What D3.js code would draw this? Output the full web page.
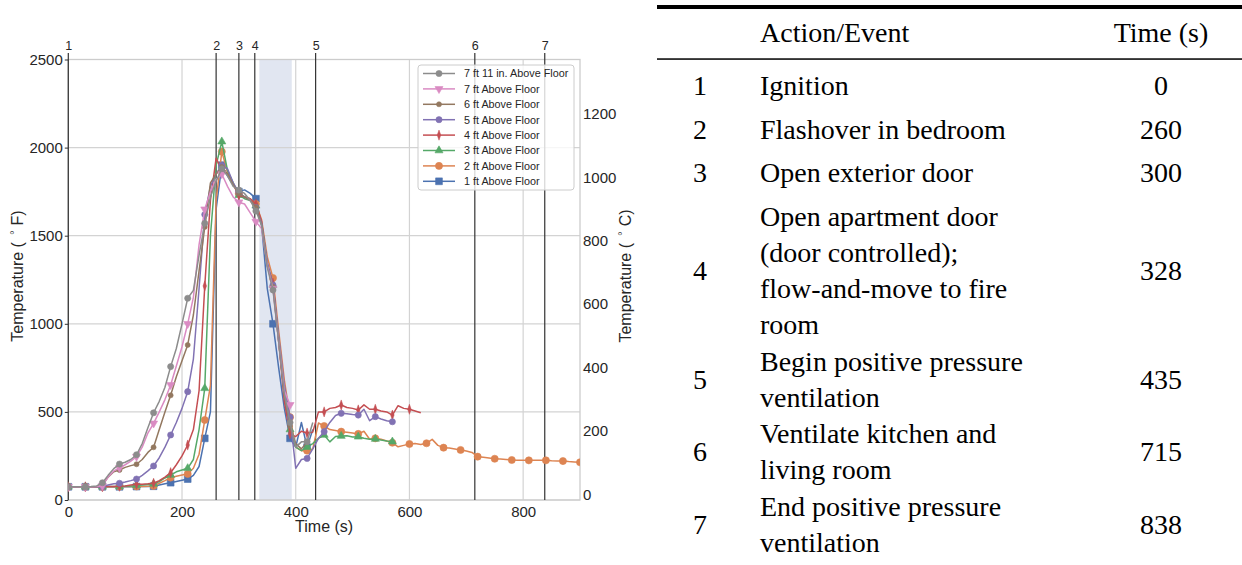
<!DOCTYPE html>
<html><head><meta charset="utf-8">
<script src="https://cdn.jsdelivr.net/npm/d3@7"></script>
<style>body{margin:0;background:#fff}svg{display:block}</style>
</head><body><svg id="c" width="1242" height="565"></svg>
<script>
// ---------------- data ----------------
const times = [0,10,20,30,40,50,60,70,80,90,100,110,120,130,140,150,160,170,180,190,200,210,220,230,240,250,260,270,280,290,300,310,320,330,340,350,360,370,380,390,400,410,420,430,440,450,460,470,480,490,500,510,520,530,540,550,560,570,580,590,600,610,620,630,640,650,660,670,680,690,700,710,720,730,740,750,760,770,780,790,800,810,820,830,840,850,860,870,880,890,900];
const seriesNames = ["1 ft Above Floor","2 ft Above Floor","3 ft Above Floor","4 ft Above Floor","5 ft Above Floor","6 ft Above Floor","7 ft Above Floor","7 ft 11 in. Above Floor"];
const t1ft = [75,75,75,75,75,75,75,75,75,75, 75,75,76,76,76,78,85,92,98,105, 112,119,140,190,350,500,1650,1900,1840,1790, 1750,1760,1740,1710,1560,1200,1000,750,520,350, 300,440,300,400];
const t2ft = [75,75,75,75,75,75,75,75,75,76, 76,77,77,77,78,80,95,110,127,135, 142,148,180,260,454,650,1700,1977,1860,1790, 1740,1720,1710,1680,1590,1380,1260,960,680,470, 300,280,280,290,437,420,400,395,388,385, 380,375,390,345,350,345,335,325,302,310, 318,320,315,322,344,310,297,295,290,284, 278,270,246,242,238,234,232,230,227,226, 225,225,225,225,225,223,222,221,218,216, 214];
const t3ft = [75,75,75,75,75,75,75,76,76,77, 78,80,82,85,88,91,105,125,142,160, 170,180,230,400,634,1500,1900,2034,1870,1800, 1730,1710,1700,1670,1570,1340,1220,910,590,400, 300,280,300,320,350,369,330,360,363,365, 358,359,350,345,346,340,335,331];
const t4ft = [75,75,75,75,75,75,75,76,77,78, 80,85,89,90,92,95,110,130,155,200, 250,312,400,620,1215,1700,1940,1870,1850,1790, 1730,1720,1710,1680,1580,1330,1230,900,560,375, 360,390,380,385,500,500,520,525,539,525, 520,511,540,515,515,505,500,482,535,520, 515,505,495];
const t5ft = [75,75,75,75,75,75,76,85,92,95, 102,110,119,140,165,193,240,300,369,440, 520,615,800,1200,1620,1780,1850,1900,1880,1800, 1745,1720,1700,1660,1570,1350,1220,930,650,470, 180,230,236,290,350,388,440,480,492,490, 485,482,515,450,473,460,450,444];
const t6ft = [75,75,75,75,75,77,85,130,160,170, 185,195,203,230,270,299,400,500,594,700, 790,880,1050,1300,1550,1800,1850,1890,1850,1790, 1740,1720,1700,1660,1560,1330,1210,900,600,420, 320,290,330];
const t7ft = [75,75,75,75,75,76,80,130,165,182, 200,220,246,300,380,435,500,570,653,760, 870,1000,1150,1450,1650,1750,1820,1850,1780,1720, 1690,1680,1630,1580,1540,1330,1200,900,620,540];
const t7ft11 = [75,75,75,75,76,80,98,140,178,204, 214,230,257,320,410,495,560,640,757,860, 1000,1145,1190,1390,1570,1720,1810,1880,1840,1780, 1759,1740,1700,1640,1560,1320,1192,900,600,440, 300,330,331,440];
const xTicks = [0,200,400,600,800];
const yTicksF = [0,500,1000,1500,2000,2500];
const yTicksC = [0,200,400,600,800,1000,1200];
const eventIds = ["1","2","3","4","5","6","7"];
const eventTimes = [0,260,300,328,435,715,838];
const eventText = [["Ignition"],["Flashover in bedroom"],["Open exterior door"],["Open apartment door","(door controlled);","flow-and-move to fire","room"],["Begin positive pressure","ventilation"],["Ventilate kitchen and","living room"],["End positive pressure","ventilation"]];
const shadeSpan = [336, 393];

// ---------------- styles ----------------
const colors = ["#4C72B0","#DD8452","#55A868","#C44E52","#8172B3","#937860","#DA8BC3","#8C8C8C"];
const markers = ["square","circle-l","triangle-up","thin-diamond","circle","circle-s","triangle-down","circle"];
const allSeries = [t1ft,t2ft,t3ft,t4ft,t5ft,t6ft,t7ft,t7ft11];

const svg = d3.select('#c');
const L = 68.3, R = 580, T = 59.5, B = 500;
const x = d3.scaleLinear().domain([0,900]).range([L,R]);
const y = d3.scaleLinear().domain([0,2500]).range([B,T]);
const yC = d3.scaleLinear().domain([(0-32)*5/9,(2500-32)*5/9]).range([B,T]);
const sans = "'Liberation Sans', Arial, sans-serif";
const txt = "#262626";

// shaded span
svg.append('rect').attr('x',x(shadeSpan[0])).attr('y',T).attr('width',x(shadeSpan[1])-x(shadeSpan[0])).attr('height',B-T).attr('fill','#e1e6f1');

// grid
const grid = svg.append('g');
grid.selectAll('.gx').data(xTicks).join('line').attr('x1',d=>x(d)).attr('x2',d=>x(d)).attr('y1',T).attr('y2',B).attr('stroke','#d3d3d3').attr('stroke-width',1.2);
grid.selectAll('.gy').data(yTicksF).join('line').attr('x1',L).attr('x2',R).attr('y1',d=>y(d)).attr('y2',d=>y(d)).attr('stroke','#d3d3d3').attr('stroke-width',1.2);

// frame
svg.append('rect').attr('x',L).attr('y',T).attr('width',R-L).attr('height',B-T).attr('fill','none').attr('stroke','#cccccc').attr('stroke-width',1.3);

// event lines
svg.selectAll('.ev').data(eventTimes).join('line').attr('x1',d=>x(d)).attr('x2',d=>x(d)).attr('y1',53).attr('y2',B).attr('stroke','#333').attr('stroke-width',1.2);

// axes
const axL = svg.append('g').attr('transform',`translate(${L},0)`).call(d3.axisLeft(y).tickValues(yTicksF).tickSize(3.5).tickPadding(2).tickFormat(d3.format('d')));
const axB = svg.append('g').attr('transform',`translate(0,${B})`).call(d3.axisBottom(x).tickValues(xTicks).tickSize(0).tickPadding(6).tickFormat(d3.format('d')));
const axR = svg.append('g').attr('transform',`translate(${R},0)`).call(d3.axisRight(yC).tickValues(yTicksC).tickSize(0).tickPadding(3).tickFormat(d3.format('d')));
const axT = svg.append('g').attr('transform',`translate(0,${T})`).call(d3.axisTop(x).tickValues(eventTimes).tickSize(0).tickPadding(10).tickFormat((d,i)=>eventIds[i]));
[axL,axB,axR,axT].forEach(a=>{a.select('.domain').remove(); a.attr('font-size',null); a.selectAll('text').attr('fill',txt).style('font-family',sans); a.selectAll('line').attr('stroke','#333');});
axL.selectAll('text').style('font-size','15px');
axB.selectAll('text').style('font-size','15px');
axR.selectAll('text').style('font-size','15px');
axT.selectAll('text').style('font-size','12.5px');

// axis titles
function degTitle(xp,yp,unit){
  const t = svg.append('text').attr('transform',`translate(${xp},${yp}) rotate(-90)`).attr('text-anchor','middle').attr('fill',txt).style('font-family',sans).style('font-size','16px');
  t.append('tspan').text('Temperature (');
  t.append('tspan').attr('dx',7).attr('dy',-5.5).style('font-size','11.5px').text('°');
  t.append('tspan').attr('dx',5).attr('dy',5.5).text(unit+')');
}
degTitle(23,276,'F');
degTitle(631,276,'C');
svg.append('text').attr('x',(L+R)/2).attr('y',532).attr('text-anchor','middle').attr('fill',txt).style('font-family',sans).style('font-size','16px').text('Time (s)');

// marker drawing
function drawMarker(g, type, color, cx, cy){
  const S = {
    'square': [d3.symbolSquare, 46, 0, 1],
    'circle-l': [d3.symbolCircle, 40, 0, 1],
    'circle': [d3.symbolCircle, 30, 0, 1],
    'circle-s': [d3.symbolCircle, 20, 0, 1],
    'triangle-up': [d3.symbolTriangle, 28, 0, 1],
    'triangle-down': [d3.symbolTriangle, 28, 180, 1],
    'thin-diamond': [d3.symbolDiamond, 30, 0, 0.6]
  }[type];
  g.append('path').attr('d', d3.symbol().type(S[0]).size(S[1])())
   .attr('transform',`translate(${cx},${cy}) rotate(${S[2]}) scale(${S[3]},1)`)
   .attr('fill',color).attr('stroke',color).attr('stroke-width',0.6);
}

// series
svg.append('clipPath').attr('id','pc').append('rect').attr('x',L).attr('y',T-10).attr('width',R-L).attr('height',B-T+10);
const plotG = svg.append('g').attr('clip-path','url(#pc)');
const line = d3.line().x(d=>x(d[0])).y(d=>y(d[1]));
allSeries.forEach((vals,k)=>{
  const pts = vals.map((v,i)=>[times[i],v]);
  plotG.append('path').datum(pts).attr('d',line).attr('fill','none').attr('stroke',colors[k]).attr('stroke-width',1.5).attr('stroke-linejoin','round');
  const mg = plotG.append('g');
  pts.forEach((p,i)=>{ if(i%3===0) drawMarker(mg, markers[k], colors[k], x(p[0]), y(p[1])); });
});

// legend
const lg = svg.append('g');
lg.append('rect').attr('x',418).attr('y',65).attr('width',156).attr('height',125).attr('rx',3).attr('fill','#fff').attr('fill-opacity',0.8).attr('stroke','#cccccc').attr('stroke-width',1);
const order = [7,6,5,4,3,2,1,0];
order.forEach((k,j)=>{
  const cy = 73.5 + j*15.4;
  lg.append('line').attr('x1',423).attr('x2',455).attr('y1',cy).attr('y2',cy).attr('stroke',colors[k]).attr('stroke-width',1.5);
  drawMarker(lg, markers[k], colors[k], 439, cy);
  lg.append('text').attr('x',464).attr('y',cy+3.8).attr('fill',txt).style('font-family',sans).style('font-size','10.8px').text(seriesNames[k]);
});

// ---------------- table ----------------
const serif = "'Liberation Serif','Times New Roman',serif";
const tg = svg.append('g').style('font-family',serif).style('font-size','28px').attr('fill','#000');
tg.append('rect').attr('x',657).attr('y',5).attr('width',585).attr('height',4).attr('fill','#000');
tg.append('rect').attr('x',657).attr('y',58.3).attr('width',585).attr('height',1.5).attr('fill','#000');
tg.append('text').attr('x',760).attr('y',42).text('Action/Event');
tg.append('text').attr('x',1161).attr('y',42).attr('text-anchor','middle').text('Time (s)');
const firstLine = [85,129,172,216,361,433,506];
const lh = 36.3;
eventText.forEach((lines,i)=>{
  const y0 = firstLine[i];
  const mid = y0 + (lines.length-1)*lh/2;
  tg.append('text').attr('x',700).attr('y',mid+9.5).attr('text-anchor','middle').text(eventIds[i]);
  tg.append('text').attr('x',1161).attr('y',mid+9.5).attr('text-anchor','middle').text(eventTimes[i]);
  lines.forEach((s,j)=>tg.append('text').attr('x',760).attr('y',y0+j*lh+9.5).text(s));
});
</script></body></html>
